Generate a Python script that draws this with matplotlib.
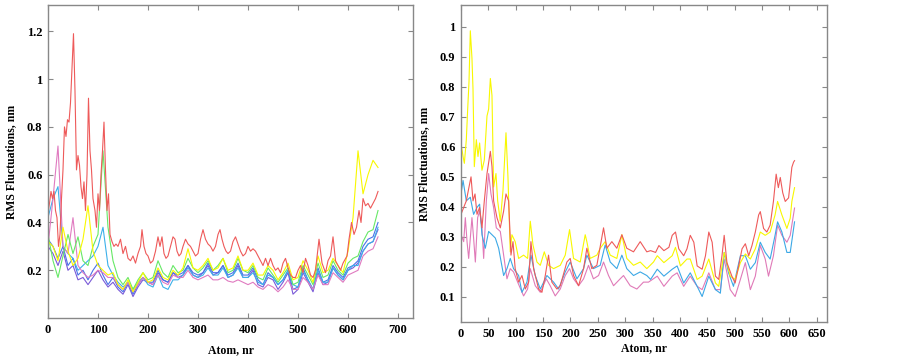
import matplotlib
matplotlib.use("Agg")
import matplotlib.pyplot as plt

plt.rcParams['font.family'] = ['Liberation Serif', 'DejaVu Serif']
plt.rcParams['font.weight'] = 'bold'

# ---------------- left panel data ----------------
grid_l = list(range(0, 661, 10))

green_l = [0.35, 0.24, 0.17, 0.26, 0.35, 0.27, 0.34, 0.24, 0.22, 0.30, 0.35, 0.70, 0.38, 0.24, 0.17, 0.14,
           0.17, 0.12, 0.16, 0.19, 0.16, 0.17, 0.24, 0.19, 0.17, 0.22, 0.19, 0.20, 0.25, 0.21, 0.19, 0.21,
           0.24, 0.20, 0.22, 0.25, 0.19, 0.20, 0.25, 0.20, 0.19, 0.22, 0.17, 0.16, 0.21, 0.18, 0.15, 0.18,
           0.21, 0.14, 0.15, 0.22, 0.18, 0.14, 0.23, 0.17, 0.18, 0.24, 0.20, 0.18, 0.23, 0.25, 0.26, 0.32,
           0.36, 0.37, 0.45]
yellow_l = [0.32, 0.30, 0.24, 0.38, 0.28, 0.22, 0.25, 0.33, 0.47, 0.28, 0.22, 0.20, 0.18, 0.19, 0.14, 0.12,
            0.16, 0.11, 0.15, 0.19, 0.15, 0.16, 0.21, 0.17, 0.16, 0.20, 0.18, 0.21, 0.29, 0.21, 0.20, 0.22,
            0.25, 0.20, 0.21, 0.25, 0.20, 0.21, 0.26, 0.20, 0.20, 0.23, 0.18, 0.18, 0.22, 0.20, 0.16, 0.19,
            0.23, 0.16, 0.17, 0.24, 0.20, 0.15, 0.26, 0.19, 0.20, 0.25, 0.22, 0.19, 0.28, 0.42, 0.70, 0.52,
            0.60, 0.66, 0.63]
cyan_l = [0.42, 0.50, 0.55, 0.30, 0.27, 0.25, 0.20, 0.22, 0.24, 0.26, 0.30, 0.38, 0.22, 0.18, 0.15, 0.13,
          0.15, 0.12, 0.15, 0.17, 0.14, 0.13, 0.18, 0.13, 0.12, 0.16, 0.16, 0.18, 0.21, 0.18, 0.17, 0.18,
          0.21, 0.18, 0.18, 0.21, 0.17, 0.18, 0.21, 0.17, 0.17, 0.19, 0.15, 0.14, 0.18, 0.17, 0.14, 0.16,
          0.20, 0.14, 0.13, 0.20, 0.16, 0.12, 0.20, 0.15, 0.15, 0.21, 0.18, 0.16, 0.20, 0.22, 0.22, 0.28,
          0.31, 0.32, 0.38]
blue_l = [0.33, 0.30, 0.25, 0.30, 0.22, 0.25, 0.18, 0.20, 0.16, 0.20, 0.23, 0.18, 0.14, 0.17, 0.13, 0.11,
          0.15, 0.10, 0.14, 0.17, 0.15, 0.15, 0.20, 0.16, 0.15, 0.19, 0.18, 0.19, 0.22, 0.19, 0.18, 0.19,
          0.23, 0.19, 0.19, 0.22, 0.18, 0.19, 0.23, 0.18, 0.18, 0.21, 0.16, 0.14, 0.19, 0.17, 0.14, 0.16,
          0.20, 0.12, 0.13, 0.21, 0.16, 0.12, 0.21, 0.15, 0.16, 0.22, 0.19, 0.17, 0.21, 0.22, 0.24, 0.30,
          0.33, 0.34, 0.40]
purple_l = [0.30, 0.27, 0.22, 0.28, 0.20, 0.22, 0.16, 0.17, 0.14, 0.17, 0.20, 0.16, 0.13, 0.15, 0.12, 0.10,
            0.14, 0.09, 0.13, 0.16, 0.15, 0.14, 0.19, 0.16, 0.15, 0.19, 0.17, 0.18, 0.22, 0.18, 0.17, 0.19,
            0.22, 0.18, 0.19, 0.22, 0.17, 0.18, 0.22, 0.17, 0.17, 0.20, 0.14, 0.13, 0.17, 0.16, 0.12, 0.15,
            0.19, 0.10, 0.12, 0.19, 0.15, 0.11, 0.19, 0.14, 0.15, 0.21, 0.18, 0.16, 0.20, 0.21, 0.23, 0.28,
            0.31, 0.32, 0.37]
pink_l = [0.30, 0.50, 0.72, 0.30, 0.27, 0.42, 0.22, 0.19, 0.17, 0.18, 0.20, 0.19, 0.17, 0.17, 0.14, 0.12,
          0.15, 0.11, 0.14, 0.17, 0.15, 0.14, 0.18, 0.15, 0.14, 0.18, 0.17, 0.17, 0.20, 0.17, 0.16, 0.17,
          0.18, 0.16, 0.16, 0.17, 0.155, 0.15, 0.16, 0.15, 0.14, 0.15, 0.13, 0.12, 0.14, 0.13, 0.11, 0.13,
          0.16, 0.12, 0.12, 0.17, 0.15, 0.12, 0.18, 0.14, 0.14, 0.19, 0.17, 0.15, 0.18, 0.19, 0.20, 0.26,
          0.28, 0.29, 0.34]

red_atoms_l = [0, 3, 6, 9, 12, 15, 18, 21, 24, 27, 30, 33, 36, 39, 42, 45, 48, 51, 54, 57, 60, 63, 66, 69,
               72, 75, 78, 81, 84, 87, 90, 94, 97, 100, 103, 106, 109, 112, 115, 118, 121, 124, 128, 132,
               136, 140, 145, 150, 155, 160, 165, 170, 175, 180, 185, 188, 192, 196, 200, 205, 210, 215,
               220, 224, 228, 232, 236, 240, 245, 250, 254, 258, 262, 266, 270, 275, 280, 285, 290, 295,
               300, 305, 310, 315, 320, 325, 330, 335, 340, 344, 348, 352, 356, 360, 365, 370, 375, 380,
               385, 390, 395, 400, 405, 410, 415, 420, 425, 430, 435, 440, 445, 450, 455, 460, 465, 470,
               475, 480, 485, 490, 495, 500, 505, 510, 515, 520, 525, 530, 535, 542, 548, 555, 560, 565,
               570, 575, 580, 585, 590, 598, 602, 607, 612, 617, 622, 626, 630, 635, 640, 645, 650, 655,
               660]
red_l = [0.44, 0.48, 0.53, 0.50, 0.53, 0.45, 0.42, 0.30, 0.35, 0.50, 0.62, 0.80, 0.76, 0.83, 0.82, 0.90,
         1.05, 1.19, 0.95, 0.62, 0.68, 0.64, 0.55, 0.50, 0.57, 0.45, 0.60, 0.92, 0.70, 0.62, 0.50, 0.45,
         0.38, 0.52, 0.45, 0.60, 0.70, 0.82, 0.62, 0.45, 0.52, 0.35, 0.32, 0.30, 0.31, 0.30, 0.33, 0.27,
         0.30, 0.25, 0.24, 0.26, 0.23, 0.27, 0.30, 0.37, 0.30, 0.27, 0.26, 0.23, 0.24, 0.28, 0.34, 0.30,
         0.34, 0.27, 0.25, 0.26, 0.30, 0.34, 0.33, 0.28, 0.26, 0.27, 0.30, 0.33, 0.31, 0.30, 0.28, 0.26,
         0.27, 0.33, 0.37, 0.33, 0.31, 0.30, 0.28, 0.30, 0.35, 0.37, 0.33, 0.30, 0.28, 0.27, 0.28, 0.32,
         0.34, 0.31, 0.28, 0.26, 0.27, 0.30, 0.28, 0.29, 0.28, 0.26, 0.24, 0.22, 0.25, 0.22, 0.25, 0.22,
         0.20, 0.21, 0.19, 0.23, 0.25, 0.21, 0.18, 0.17, 0.17, 0.20, 0.22, 0.19, 0.25, 0.22, 0.18, 0.17,
         0.20, 0.33, 0.23, 0.19, 0.24, 0.26, 0.34, 0.24, 0.22, 0.20, 0.23, 0.26, 0.33, 0.40, 0.35, 0.38,
         0.45, 0.40, 0.50, 0.47, 0.48, 0.46, 0.48, 0.50, 0.53]

# ---------------- right panel data ----------------
yellow_atoms_r = [0, 3.7, 6.1, 9.7, 12.2, 14.6, 17, 20, 21.9, 24.3, 28, 31, 34, 38.3, 42.6, 47.5, 50.5,
                  53.6, 56.6, 59.6, 63.9, 67, 71.8, 76.7, 82.2, 85.8, 90, 93, 99, 105.3, 114.4, 121.7,
                  126.6, 131.5, 138.8, 144.9, 152.2, 160, 169.2, 181.4, 190.5, 198.4, 205.7, 217.9, 227,
                  230, 236, 248.3, 254.4, 263.5, 272.7, 284.8, 294, 303, 315.3, 327.5, 339.6, 351.8, 358.7,
                  370.8, 386, 392, 401, 413, 419, 431.6, 440.7, 452.9, 465, 471, 481, 492, 501, 510.6,
                  519.7, 528.8, 537.9, 547, 556, 565, 574, 578.6, 586.5, 595.6, 601.7, 604.7, 609.6]
yellow_r = [0.61, 0.567, 0.544, 0.623, 0.725, 0.816, 0.986, 0.895, 0.793, 0.533, 0.623, 0.567, 0.612,
            0.521, 0.555, 0.702, 0.725, 0.827, 0.770, 0.465, 0.510, 0.419, 0.351, 0.453, 0.646, 0.499,
            0.249, 0.306, 0.283, 0.227, 0.238, 0.227, 0.351, 0.272, 0.215, 0.204, 0.249, 0.204, 0.193,
            0.204, 0.238, 0.323, 0.227, 0.215, 0.306, 0.283, 0.227, 0.238, 0.261, 0.283, 0.238, 0.227,
            0.306, 0.227, 0.204, 0.215, 0.193, 0.215, 0.236, 0.213, 0.236, 0.264, 0.202, 0.225, 0.225,
            0.157, 0.168, 0.225, 0.145, 0.134, 0.247, 0.168, 0.157, 0.213, 0.242, 0.225, 0.259, 0.315,
            0.304, 0.315, 0.372, 0.417, 0.372, 0.327, 0.361, 0.417, 0.463]

red_atoms_r = [0, 4.9, 9.7, 14.6, 18.3, 21.9, 25.6, 29.2, 34, 38.3, 42.6, 47.5, 53.6, 56.6, 59.6, 65.7,
               71.8, 77.9, 82.2, 87, 91.3, 95, 99, 105.3, 111.4, 117.5, 123.6, 127.8, 132.7, 141.8, 147.9,
               154, 160, 166, 175.3, 181.4, 193.5, 199.6, 205.7, 214.9, 224, 230, 239, 248.3, 260.5, 266.6,
               275.7, 284.8, 294, 303, 315.3, 327.5, 339.6, 346.5, 355.6, 361.7, 370.8, 380, 386, 392, 398,
               407, 413, 419, 425.5, 431.6, 440.7, 446.8, 452.9, 459, 465, 471, 477, 481, 486, 495, 501,
               507.5, 513.6, 519.7, 525.8, 531.8, 537.9, 544, 547, 553, 559, 565, 571, 576, 580, 583.5,
               588, 592.6, 598.7, 604.7, 607.8, 609.6]
red_r = [0.374, 0.397, 0.419, 0.465, 0.499, 0.419, 0.442, 0.374, 0.397, 0.329, 0.419, 0.510, 0.584, 0.533,
         0.419, 0.363, 0.329, 0.385, 0.442, 0.419, 0.238, 0.283, 0.193, 0.148, 0.170, 0.125, 0.148, 0.283,
         0.193, 0.125, 0.114, 0.170, 0.238, 0.148, 0.125, 0.136, 0.215, 0.227, 0.170, 0.136, 0.193, 0.261,
         0.193, 0.204, 0.329, 0.261, 0.283, 0.261, 0.306, 0.261, 0.249, 0.283, 0.249, 0.253, 0.247, 0.27,
         0.253, 0.264, 0.304, 0.315, 0.259, 0.236, 0.259, 0.304, 0.281, 0.202, 0.191, 0.236, 0.315, 0.281,
         0.168, 0.157, 0.236, 0.304, 0.213, 0.168, 0.145, 0.202, 0.259, 0.276, 0.236, 0.27, 0.315, 0.372,
         0.383, 0.327, 0.315, 0.338, 0.417, 0.508, 0.463, 0.497, 0.446, 0.417, 0.429, 0.531, 0.548, 0.553]

cyan_atoms_r = [0, 3.7, 9.7, 17, 23, 29.2, 34, 38.3, 44.4, 50.5, 56.6, 62.7, 68.8, 77.9, 84, 90, 96, 105.3,
                111.4, 120.5, 127.8, 135.7, 144.9, 157, 169.2, 178.3, 190.5, 199.6, 211.8, 224, 230, 242,
                254.4, 263.5, 272.7, 284.8, 294, 303, 315.3, 327.5, 339.6, 346.5, 358.7, 370.8, 386, 395,
                407, 419, 431.6, 440.7, 452.9, 465, 474, 481, 489, 498, 510.6, 519.7, 528.8, 537.9, 547,
                556, 565, 574, 578.6, 586.5, 595.6, 601.7, 609.6]
cyan_r = [0.442, 0.487, 0.419, 0.431, 0.374, 0.397, 0.408, 0.306, 0.261, 0.317, 0.306, 0.295, 0.261, 0.170,
          0.193, 0.227, 0.193, 0.170, 0.114, 0.148, 0.238, 0.170, 0.125, 0.170, 0.148, 0.125, 0.182, 0.215,
          0.159, 0.193, 0.238, 0.193, 0.204, 0.272, 0.215, 0.193, 0.238, 0.193, 0.170, 0.182, 0.170, 0.157,
          0.191, 0.168, 0.191, 0.202, 0.145, 0.179, 0.134, 0.100, 0.168, 0.123, 0.111, 0.247, 0.179, 0.134,
          0.236, 0.236, 0.191, 0.213, 0.281, 0.247, 0.225, 0.304, 0.349, 0.315, 0.247, 0.247, 0.349]

pink_atoms_r = [0, 4.9, 7.9, 11, 14, 20, 23, 26.2, 30.4, 34, 38.3, 41.4, 46.3, 50.5, 54.8, 59.6, 64.5, 71.8,
                77.9, 84, 90, 96, 103.5, 114.4, 121.7, 126.6, 135.7, 144.9, 155.8, 163, 172.2, 181.4, 190.5,
                198.4, 205.7, 214.9, 224, 233, 242, 251.4, 260.5, 269.6, 278.8, 290.9, 297, 309.2, 321.4,
                333.5, 342.7, 358.7, 370.8, 386, 395, 407, 419, 431.6, 440.7, 452.9, 465, 474, 481, 492, 501,
                510.6, 519.7, 528.8, 537.9, 547, 556, 562, 571, 578.6, 586.5, 595.6, 601.7, 609.6]
pink_r = [0.306, 0.283, 0.363, 0.283, 0.227, 0.363, 0.295, 0.215, 0.363, 0.385, 0.329, 0.227, 0.419, 0.510,
          0.442, 0.397, 0.329, 0.317, 0.238, 0.159, 0.193, 0.182, 0.148, 0.102, 0.125, 0.193, 0.136, 0.114,
          0.159, 0.136, 0.102, 0.125, 0.170, 0.193, 0.159, 0.136, 0.159, 0.204, 0.159, 0.170, 0.215, 0.170,
          0.136, 0.159, 0.170, 0.136, 0.125, 0.148, 0.148, 0.168, 0.134, 0.168, 0.179, 0.134, 0.168, 0.134,
          0.123, 0.179, 0.123, 0.123, 0.225, 0.123, 0.100, 0.157, 0.213, 0.123, 0.168, 0.270, 0.225, 0.168,
          0.236, 0.338, 0.304, 0.281, 0.304, 0.395]

# ---------------- figure ----------------
fig = plt.figure(figsize=(9.02, 3.57), dpi=100)
ax1 = fig.add_axes([0.0532, 0.109, 0.4047, 0.877])
ax2 = fig.add_axes([0.5111, 0.098, 0.4058, 0.888])

lw = 0.8
ax1.plot(grid_l, purple_l, color='#7a5ad8', lw=lw)
ax1.plot(grid_l, blue_l, color='#4a72e8', lw=lw)
ax1.plot(grid_l, cyan_l, color='#3cb0ea', lw=lw)
ax1.plot(grid_l, pink_l, color='#e07ac0', lw=lw)
ax1.plot(grid_l, green_l, color='#66e866', lw=lw)
ax1.plot(grid_l, yellow_l, color='#f8f800', lw=lw)
ax1.plot(red_atoms_l, red_l, color='#ee5a5a', lw=lw)

ax2.plot(pink_atoms_r, pink_r, color='#e07ab8', lw=lw)
ax2.plot(cyan_atoms_r, cyan_r, color='#3ca8e6', lw=lw)
ax2.plot(yellow_atoms_r, yellow_r, color='#f8f800', lw=lw)
ax2.plot(red_atoms_r, red_r, color='#ee5a5a', lw=lw)

ax1.set_xlim(0, 730)
ax1.set_ylim(0, 1.31)
ax1.set_xticks(range(0, 701, 100))
ax1.set_yticks([0.2, 0.4, 0.6, 0.8, 1.0, 1.2])
ax1.set_yticklabels(['0.2', '0.4', '0.6', '0.8', '1', '1.2'])

ax2.set_xlim(0, 669)
ax2.set_ylim(0.015, 1.072)
ax2.set_xticks(range(0, 651, 50))
ax2.set_yticks([0.1, 0.2, 0.3, 0.4, 0.5, 0.6, 0.7, 0.8, 0.9, 1.0])
ax2.set_yticklabels(['0.1', '0.2', '0.3', '0.4', '0.5', '0.6', '0.7', '0.8', '0.9', '1'])

for ax, xpad in ((ax1, 6), (ax2, 2)):
    for sp in ax.spines.values():
        sp.set_color('#888888')
        sp.set_linewidth(1.0)
    ax.tick_params(direction='in', length=3.5, width=0.8, color='#888888',
                   top=True, right=True, labelsize=9, pad=4)
    for lab in ax.get_xticklabels() + ax.get_yticklabels():
        lab.set_fontweight('bold')
    ax.set_xlabel('Atom, nr', fontsize=8.5, fontweight='bold', labelpad=xpad)
    ax.set_ylabel('RMS Fluctuations, nm', fontsize=8.5, fontweight='bold', labelpad=7)

fig.savefig('out.png', dpi=100, facecolor='white')
